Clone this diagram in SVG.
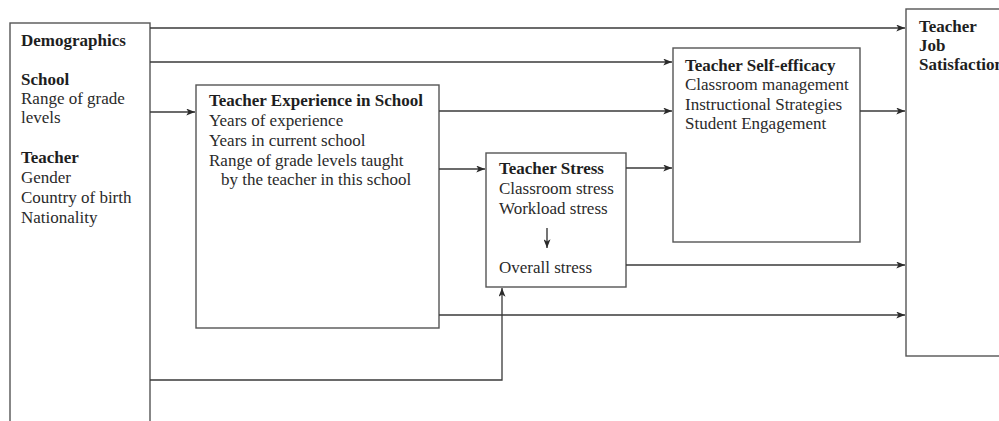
<svg xmlns="http://www.w3.org/2000/svg" width="999" height="421" viewBox="0 0 999 421">
  <style>
    .box { fill: #ffffff; stroke: #555555; stroke-width: 1.4; }
    .t { font-family: "Liberation Serif", "Times New Roman", serif; font-size: 17px; fill: #2a2a2a; }
    .b { font-weight: bold; fill: #1e1e1e; }
    .edge { fill: none; stroke: #3a3a3a; stroke-width: 1.3; }
  </style>
  <defs>
    <marker id="arrow" viewBox="0 0 10 8" refX="10" refY="4" markerWidth="9" markerHeight="7" markerUnits="userSpaceOnUse" orient="auto">
      <path d="M0,0 L10,4 L0,8 L2.5,4 Z" fill="#2a2a2a"/>
    </marker>
  </defs>
  <rect width="999" height="421" fill="#ffffff"/>

  <!-- Demographics -->
  <g id="demographics">
    <rect class="box" x="10" y="23" width="140" height="410"/>
    <text class="t b" x="21" y="46">Demographics</text>
    <text class="t b" x="21" y="85">School</text>
    <text class="t" x="21" y="104">Range of grade</text>
    <text class="t" x="21" y="123">levels</text>
    <text class="t b" x="21" y="163">Teacher</text>
    <text class="t" x="21" y="183">Gender</text>
    <text class="t" x="21" y="203">Country of birth</text>
    <text class="t" x="21" y="223">Nationality</text>
  </g>

  <!-- Teacher Experience in School -->
  <g id="experience">
    <rect class="box" x="196" y="85" width="243" height="243"/>
    <text class="t b" x="209" y="106">Teacher Experience in School</text>
    <text class="t" x="209" y="126">Years of experience</text>
    <text class="t" x="209" y="146">Years in current school</text>
    <text class="t" x="209" y="166">Range of grade levels taught</text>
    <text class="t" x="221" y="185">by the teacher in this school</text>
  </g>

  <!-- Teacher Stress -->
  <g id="stress">
    <rect class="box" x="486" y="153" width="140" height="134"/>
    <text class="t b" x="499" y="174">Teacher Stress</text>
    <text class="t" x="499" y="194">Classroom stress</text>
    <text class="t" x="499" y="214">Workload stress</text>
    <line x1="547" y1="228" x2="547" y2="248" stroke="#2a2a2a" stroke-width="1.3" marker-end="url(#arrow)"/>
    <text class="t" x="499" y="273">Overall stress</text>
  </g>

  <!-- Teacher Self-efficacy -->
  <g id="self-efficacy">
    <rect class="box" x="673" y="48" width="187" height="194"/>
    <text class="t b" x="685" y="71">Teacher Self-efficacy</text>
    <text class="t" x="685" y="90">Classroom management</text>
    <text class="t" x="685" y="110">Instructional Strategies</text>
    <text class="t" x="685" y="129">Student Engagement</text>
  </g>

  <!-- Teacher Job Satisfaction -->
  <g id="job-satisfaction">
    <rect class="box" x="906" y="9" width="110" height="347"/>
    <text class="t b" x="919" y="32">Teacher</text>
    <text class="t b" x="919" y="51">Job</text>
    <text class="t b" x="919" y="70">Satisfaction</text>
  </g>

  <!-- Paths between the blocks -->
  <g id="connectors">
    <line class="edge" x1="150" y1="28" x2="905" y2="28" marker-end="url(#arrow)"/>
    <line class="edge" x1="150" y1="62" x2="672" y2="62" marker-end="url(#arrow)"/>
    <line class="edge" x1="150" y1="112" x2="195" y2="112" marker-end="url(#arrow)"/>
    <polyline class="edge" points="150,380 502,380 502,288" marker-end="url(#arrow)"/>
    <line class="edge" x1="439" y1="111" x2="672" y2="111" marker-end="url(#arrow)"/>
    <line class="edge" x1="439" y1="169" x2="485" y2="169" marker-end="url(#arrow)"/>
    <line class="edge" x1="439" y1="315" x2="905" y2="315" marker-end="url(#arrow)"/>
    <line class="edge" x1="626" y1="168" x2="672" y2="168" marker-end="url(#arrow)"/>
    <line class="edge" x1="626" y1="265" x2="905" y2="265" marker-end="url(#arrow)"/>
    <line class="edge" x1="860" y1="111" x2="905" y2="111" marker-end="url(#arrow)"/>
  </g>
</svg>
